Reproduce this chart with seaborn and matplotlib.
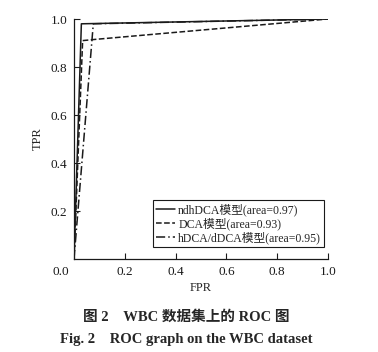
import matplotlib
matplotlib.use('Agg')
import matplotlib.pyplot as plt
import matplotlib.transforms as mtransforms
import seaborn as sns
import pandas as pd

# ---- data ----
labels = ['ndhDCA模型(area=0.97)', 'DCA模型(area=0.93)', 'hDCA/dDCA模型(area=0.95)']
fpr_ndhdca = [0.0, 0.029, 1.0]
tpr_ndhdca = [0.0, 0.980, 1.0]
fpr_dca = [0.0, 0.034, 0.083, 1.0]
tpr_dca = [0.0, 0.910, 0.915, 1.0]
fpr_hdca = [0.0, 0.076, 1.0]
tpr_hdca = [0.0, 0.980, 1.0]
x_ticks = [0.0, 0.2, 0.4, 0.6, 0.8, 1.0]
y_ticks = [0.2, 0.4, 0.6, 0.8, 1.0]
x_label = 'FPR'
y_label = 'TPR'
caption_cn = '图 2　WBC 数据集上的 ROC 图'
caption_en = 'Fig. 2　ROC graph on the WBC dataset'

sns.set_theme(style='ticks')
plt.rcParams['font.family'] = ['Liberation Serif', 'Noto Sans CJK SC']
plt.rcParams['axes.unicode_minus'] = False

W, H = 378, 352
fig = plt.figure(figsize=(W / 100, H / 100), dpi=100)
fig.patch.set_facecolor('white')
ax = fig.add_axes([74 / W, (H - 259) / H, 254 / W, 240 / H])
ax.set_facecolor('white')

series = [(fpr_ndhdca, tpr_ndhdca, '-'),
          (fpr_dca, tpr_dca, '--'),
          (fpr_hdca, tpr_hdca, (0, (6, 2, 1, 2)))]
for (fx, ty, ls), lab in zip(series, labels):
    df = pd.DataFrame({'FPR': fx, 'TPR': ty})
    sns.lineplot(data=df, x='FPR', y='TPR', sort=False, ax=ax, color='#1a1a1a',
                 linewidth=1.1, linestyle=ls, label=lab, estimator=None)

ax.set_xlim(0, 1)
ax.set_ylim(0, 1)
ax.set_xticks(x_ticks)
ax.set_yticks(y_ticks)
ax.set_xticklabels([f'{v:.1f}' for v in x_ticks])
ax.set_yticklabels([f'{v:.1f}' for v in y_ticks])
ax.tick_params(direction='in', length=4, width=0.8, pad=5, labelsize=9.5, colors='#1a1a1a')
# shift the origin label "0.0" to the lower-left corner
off = mtransforms.ScaledTranslation(-13 / 100, 0, fig.dpi_scale_trans)
lbl0 = ax.get_xticklabels()[0]
lbl0.set_transform(lbl0.get_transform() + off)

for s in ['top', 'right']:
    ax.spines[s].set_visible(False)
for s in ['left', 'bottom']:
    ax.spines[s].set_linewidth(0.9)
    ax.spines[s].set_color('#1a1a1a')

ax.set_xlabel(x_label, fontsize=9, labelpad=3)
ax.set_ylabel(y_label, fontsize=9, labelpad=5)

leg = ax.legend(loc='lower right', bbox_to_anchor=(0.984, 0.05), borderaxespad=0,
                fontsize=8.5, frameon=True, fancybox=False, framealpha=1,
                edgecolor='#1a1a1a', handlelength=1.6, handletextpad=0.3,
                borderpad=0.25, labelspacing=0.12)
leg.get_frame().set_linewidth(0.8)

fig.text(186 / W, 1 - 317 / H, caption_cn, ha='center', va='center',
         fontsize=10.5, fontweight='bold')
fig.text(186 / W, 1 - 339 / H, caption_en, ha='center', va='center',
         fontsize=10.5, fontweight='bold')

fig.savefig('out.png', dpi=100, facecolor='white')
